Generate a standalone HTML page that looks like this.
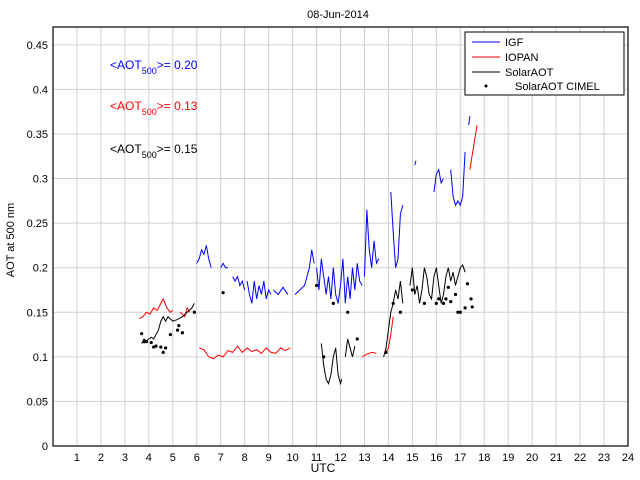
<!DOCTYPE html>
<html><head><meta charset="utf-8"><style>
body{margin:0;background:#fff;font-family:"Liberation Sans",sans-serif}
svg{display:block}
text{font-family:"Liberation Sans",sans-serif}
</style></head><body>
<svg id="c" width="640" height="480">
<rect x="0" y="0" width="640" height="480" fill="#fff"/>
<text x="338" y="18" font-size="11" text-anchor="middle">08-Jun-2014</text>
<text x="323" y="472" font-size="12" text-anchor="middle">UTC</text>
<text transform="translate(14,240) rotate(-90)" font-size="11" text-anchor="middle">AOT at 500 nm</text>
<g id="grid"></g><g id="ticks"></g><g id="series"></g>
<rect x="53" y="27" width="575" height="419" fill="none" stroke="#000" stroke-width="1.2"/>
<text x="110" y="69" font-size="12" fill="#0000ff">&lt;AOT<tspan font-size="9" dy="5">500</tspan><tspan dy="-5">&gt;= 0.20</tspan></text>
<text x="110" y="110" font-size="12" fill="#ff0000">&lt;AOT<tspan font-size="9" dy="5">500</tspan><tspan dy="-5">&gt;= 0.13</tspan></text>
<text x="110" y="153" font-size="12" fill="#000">&lt;AOT<tspan font-size="9" dy="5">500</tspan><tspan dy="-5">&gt;= 0.15</tspan></text>
<g>
<rect x="465" y="32" width="159" height="63" fill="#fff" stroke="#000"/>
<line x1="472" y1="42" x2="500" y2="42" stroke="#0000ff"/><text x="505" y="46" font-size="11">IGF</text>
<line x1="472" y1="57" x2="500" y2="57" stroke="#ff0000"/><text x="505" y="61" font-size="11">IOPAN</text>
<line x1="472" y1="72" x2="500" y2="72" stroke="#000"/><text x="505" y="76" font-size="11">SolarAOT</text>
<circle cx="486" cy="86" r="1.5" fill="#000"/><text x="515" y="90" font-size="11">SolarAOT CIMEL</text>
</g>
</svg>
<script>
const xTicks=[1,2,3,4,5,6,7,8,9,10,11,12,13,14,15,16,17,18,19,20,21,22,23,24];
const yTicks=[0,0.05,0.1,0.15,0.2,0.25,0.3,0.35,0.4,0.45];
const yTickLabels=["0","0.05","0.1","0.15","0.2","0.25","0.3","0.35","0.4","0.45"];
const igfSegments=[
[[6.0,0.205],[6.1,0.21],[6.2,0.22],[6.3,0.215],[6.4,0.225],[6.5,0.21],[6.6,0.2]],
[[7.0,0.2],[7.1,0.205],[7.2,0.2],[7.3,0.2]],
[[7.5,0.19],[7.6,0.185],[7.7,0.19],[7.8,0.18],[7.9,0.185],[8.0,0.175]],
[[8.1,0.185],[8.2,0.17],[8.3,0.16],[8.4,0.185],[8.5,0.165],[8.6,0.18],[8.7,0.17],[8.8,0.185],[8.9,0.165],[9.0,0.175],[9.1,0.17]],
[[9.2,0.175],[9.4,0.17],[9.6,0.178],[9.8,0.17]],
[[10.1,0.17],[10.3,0.175],[10.5,0.18],[10.7,0.2],[10.8,0.22],[10.9,0.205]],
[[11.0,0.2],[11.1,0.175],[11.2,0.21],[11.3,0.19],[11.4,0.17],[11.5,0.19],[11.6,0.165],[11.7,0.2],[11.8,0.17],[11.9,0.16],[12.0,0.18],[12.1,0.21],[12.2,0.16],[12.3,0.19],[12.4,0.165],[12.5,0.2],[12.6,0.175],[12.7,0.205],[12.8,0.185],[12.9,0.18]],
[[13.0,0.19],[13.1,0.265],[13.2,0.22],[13.3,0.2],[13.4,0.23],[13.5,0.205],[13.6,0.21]],
[[14.1,0.285],[14.2,0.24],[14.3,0.2],[14.4,0.21],[14.5,0.26],[14.6,0.27]],
[[15.1,0.315],[15.15,0.32]],
[[15.9,0.285],[16.0,0.305],[16.1,0.31],[16.2,0.295],[16.3,0.3]],
[[16.6,0.31],[16.7,0.28],[16.8,0.27],[16.9,0.275],[17.0,0.27],[17.1,0.28],[17.2,0.33]],
[[17.35,0.36],[17.4,0.37]]
];
const iopanSegments=[
[[3.6,0.143],[3.75,0.145],[3.9,0.15],[4.05,0.148],[4.2,0.155],[4.35,0.152],[4.5,0.16],[4.6,0.165],[4.75,0.155],[4.9,0.15],[5.0,0.152]],
[[5.3,0.15],[5.4,0.148],[5.5,0.145],[5.6,0.155],[5.7,0.15]],
[[6.1,0.11],[6.3,0.108],[6.5,0.1],[6.7,0.098],[6.9,0.102],[7.1,0.1],[7.3,0.107],[7.5,0.105],[7.7,0.112],[7.9,0.105],[8.1,0.11],[8.3,0.106],[8.5,0.108],[8.7,0.104],[8.9,0.11],[9.1,0.105],[9.3,0.104],[9.5,0.11],[9.7,0.107],[9.9,0.11]],
[[12.9,0.1],[13.1,0.103],[13.3,0.105],[13.5,0.104]],
[[13.9,0.105],[14.0,0.11],[14.1,0.125],[14.2,0.145]],
[[17.4,0.31],[17.55,0.335],[17.7,0.36]]
];
const solarSegments=[
[[3.7,0.115],[3.8,0.12],[3.9,0.118],[4.0,0.12],[4.1,0.122],[4.2,0.12],[4.3,0.125],[4.4,0.13],[4.5,0.14],[4.6,0.145],[4.7,0.14],[4.8,0.145],[5.0,0.14],[5.2,0.142],[5.4,0.145],[5.6,0.15],[5.8,0.155],[5.9,0.16]],
[[11.2,0.115],[11.3,0.09],[11.4,0.075],[11.5,0.07],[11.6,0.08],[11.7,0.1],[11.8,0.11],[11.9,0.08],[12.0,0.07],[12.05,0.075]],
[[12.2,0.1],[12.3,0.12],[12.4,0.11],[12.5,0.1],[12.6,0.112]],
[[13.8,0.1],[13.9,0.11],[14.0,0.13],[14.1,0.15],[14.2,0.16],[14.3,0.175],[14.4,0.165],[14.5,0.185],[14.6,0.16]],
[[14.9,0.18],[15.0,0.2],[15.1,0.17],[15.2,0.18],[15.3,0.16],[15.4,0.175],[15.5,0.2],[15.6,0.19],[15.7,0.17],[15.8,0.165],[15.9,0.19],[16.0,0.2],[16.1,0.18],[16.2,0.16],[16.3,0.17],[16.4,0.19],[16.5,0.2],[16.6,0.185],[16.7,0.195],[16.8,0.18],[16.9,0.19],[17.0,0.2],[17.1,0.203],[17.2,0.195]]
];
const cimelX=[3.7,3.8,3.9,4.1,4.2,4.3,4.5,4.6,4.7,4.9,5.2,5.25,5.4,5.9,7.1,11.0,11.3,11.7,12.3,12.7,13.9,14.2,14.5,15.0,15.5,16.0,16.1,16.3,16.4,16.5,16.6,16.8,16.9,17.0,17.2,17.3,17.45,17.5];
const cimelY=[0.126,0.117,0.117,0.116,0.111,0.112,0.111,0.105,0.11,0.125,0.13,0.135,0.127,0.15,0.172,0.18,0.1,0.16,0.15,0.12,0.105,0.16,0.15,0.175,0.16,0.16,0.165,0.16,0.165,0.178,0.162,0.17,0.15,0.15,0.155,0.182,0.165,0.156];

const X0=53,X1=628,Y0=446,YT=27,YMAX=0.47;
const sx=v=>X0+v/24*(X1-X0);
const sy=v=>Y0-v/YMAX*(Y0-YT);
const NS='http://www.w3.org/2000/svg';
const grid=document.getElementById('grid'),ticks=document.getElementById('ticks'),ser=document.getElementById('series');
function mk(tag,attrs,parent){const e=document.createElementNS(NS,tag);for(const k in attrs)e.setAttribute(k,attrs[k]);parent.appendChild(e);return e;}
xTicks.forEach(t=>{
 const l=mk('line',{x1:sx(t),x2:sx(t),y1:YT,y2:Y0,stroke:'#d0d0d0'},grid);
 
 
 const tx=mk('text',{x:sx(t),y:Y0+15,'font-size':11,'text-anchor':'middle'},ticks);
 tx.textContent=t;
 
 
});
yTicks.forEach((t,i)=>{
 const l=mk('line',{x1:X0,x2:X1,y1:sy(t),y2:sy(t),stroke:'#d0d0d0'},grid);
 
 
 const tx=mk('text',{x:X0-5,y:sy(t)+4,'font-size':11,'text-anchor':'end'},ticks);
 tx.textContent=yTickLabels[i];
 
 
});
function drawSegs(segs,color,name){
 segs.forEach(s=>{
  const p=mk('polyline',{points:s.map(d=>sx(d[0])+','+sy(d[1])).join(' '),fill:'none',stroke:color,'stroke-width':1},ser);
  
  
 });
}
drawSegs(igfSegments,'#0000ff','igf-line');
drawSegs(iopanSegments,'#ff0000','iopan-line');
drawSegs(solarSegments,'#000000','solaraot-line');
cimelX.forEach((x,i)=>{
 const c=mk('circle',{cx:sx(x),cy:sy(cimelY[i]),r:1.6,fill:'#000'},ser);
 
 
});
</script>
</body></html>
